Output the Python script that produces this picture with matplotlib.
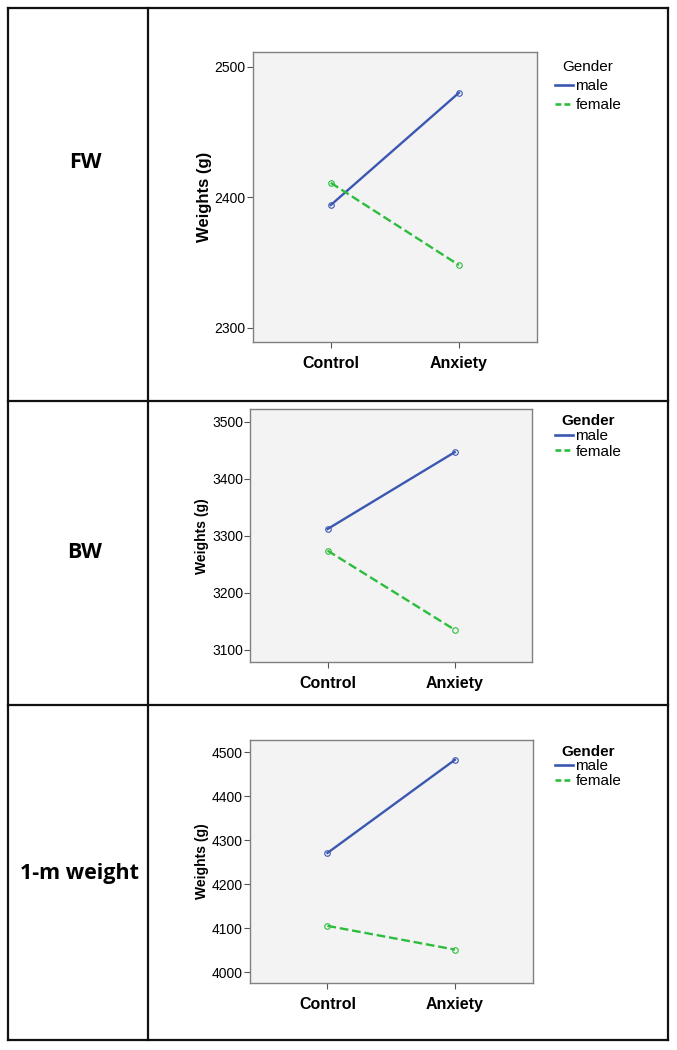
#!/usr/bin/env python3

from matplotlib.lines import Line2D
from matplotlib.pyplot import close, figure, savefig

GROUPS = ["Control", "Anxiety"]
GENDERS = ["male", "female"]
ROW_LABELS = ["FW", "BW", "1-m weight"]

FW_MALE = [2394, 2480]
FW_FEMALE = [2411, 2348]
BW_MALE = [3312, 3447]
BW_FEMALE = [3274, 3135]
M1_MALE = [4271, 4483]
M1_FEMALE = [4105, 4051]

FW_TICKS = [2300, 2400, 2500]
BW_TICKS = [3100, 3200, 3300, 3400, 3500]
M1_TICKS = [4000, 4100, 4200, 4300, 4400, 4500]

W, H = 677, 1050
FONT = "Liberation Sans"
COLORS = {"male": "#3b57b2", "female": "#2dbd3c"}
STYLES = {"male": "-", "female": "--"}


def fx(px):
    return px / W


def fy(py):
    return 1 - py / H


def panel(fig, box, male, female, ticks, ylim, style):
    (left, top, right, bottom) = box
    ax = fig.add_axes([fx(left), fy(bottom), fx(right - left), (bottom - top) / H])
    ax.set_facecolor("#f3f3f3")
    for s in ax.spines.values():
        s.set_color("#808080")
        s.set_linewidth(1.0)
    x = list(range(len(GROUPS)))
    handles = []
    for (name, vals) in zip(GENDERS, [male, female]):
        ax.plot(
            x, vals,
            color=COLORS[name], linestyle=STYLES[name], linewidth=1.7,
            marker="o", markersize=4, markerfacecolor="none",
            markeredgewidth=0.8,
        )
        handles.append(Line2D([], [], color=COLORS[name],
                              linestyle=STYLES[name], linewidth=1.9,
                              dashes=(2.2, 1.2) if STYLES[name] == "--" else ()))
    ax.set_xlim(-0.61, 1.61)
    ax.set_ylim(*ylim)
    ax.set_yticks(ticks)
    ax.set_yticklabels([str(t) for t in ticks], fontsize=10, family=FONT)
    ax.set_xticks(x)
    ax.set_xticklabels(GROUPS, fontsize=11.5, family=FONT, fontweight="bold")
    ax.tick_params(axis="both", direction="out", length=4, width=0.8,
                   color="#555555", pad=1)
    ax.tick_params(axis="x", pad=6)
    ax.set_ylabel("Weights (g)", fontsize=style["ylabel"], family=FONT,
                  fontweight="bold", labelpad=2)
    leg = ax.legend(
        handles, GENDERS,
        loc="upper left",
        bbox_to_anchor=(fx(547), fy(style["legend_y"])),
        bbox_transform=fig.transFigure,
        frameon=False,
        title="Gender",
        prop={"family": FONT, "size": 11},
        handlelength=1.2,
        handletextpad=0.15,
        labelspacing=style["spacing"],
        borderpad=0,
    )
    leg.get_title().set_fontfamily(FONT)
    leg.get_title().set_fontsize(11)
    if style["bold"]:
        leg.get_title().set_fontweight("bold")
    return ax


def main():
    fig = figure(figsize=(W / 100, H / 100), dpi=100)
    kwargs = {"color": "#111111", "linewidth": 1.6}
    for (x0, y0, x1, y1) in [
        (8, 8, 668, 8), (8, 1040, 668, 1040),
        (8, 8, 8, 1040), (668, 8, 668, 1040), (148, 8, 148, 1040),
        (8, 401, 668, 401), (8, 705, 668, 705),
    ]:
        fig.add_artist(Line2D([fx(x0), fx(x1)], [fy(y0), fy(y1)], **kwargs))

    for (label, (px, py)) in zip(ROW_LABELS, [(85, 162), (85, 552), (80, 873)]):
        fig.text(fx(px), fy(py), label, ha="center", va="center",
                 fontsize=15.5, fontweight="bold", family="Open Sans")

    panel(fig, (252.7, 52, 537, 342), FW_MALE, FW_FEMALE, FW_TICKS,
          (2289, 2511.3),
          {"ylabel": 12, "legend_y": 52, "spacing": 0.35, "bold": False})
    panel(fig, (250, 409.3, 532.3, 662), BW_MALE, BW_FEMALE, BW_TICKS,
          (3078.4, 3522.3),
          {"ylabel": 10, "legend_y": 406, "spacing": 0.1, "bold": True})
    panel(fig, (249.7, 739.7, 532.7, 983.3), M1_MALE, M1_FEMALE, M1_TICKS,
          (3974.3, 4528.7),
          {"ylabel": 10, "legend_y": 737, "spacing": 0.05, "bold": True})

    savefig("out.png", dpi=100)
    close()


if __name__ == "__main__":
    main()
